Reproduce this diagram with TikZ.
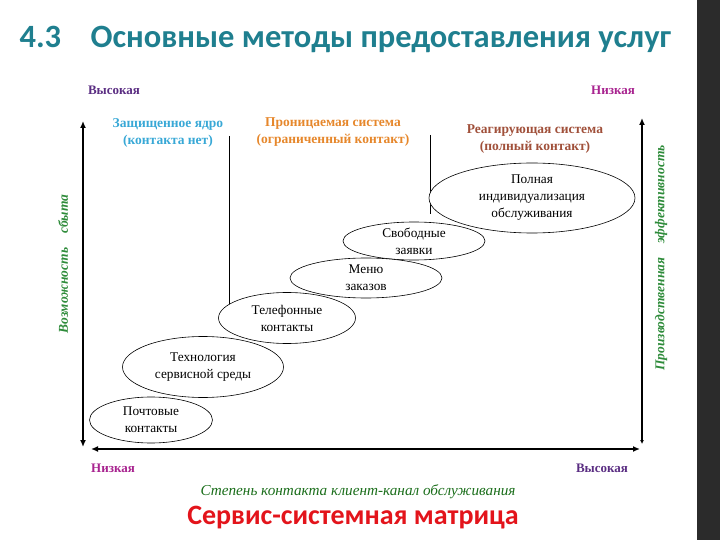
\documentclass[tikz,border=0pt]{standalone}
\usepackage{fontspec}
\setmainfont{Liberation Serif}
\newfontfamily\headfont{Carlito}
\usepackage{xcolor}
\usepackage{tikz}
\usetikzlibrary{arrows.meta,positioning,shapes.geometric}
\definecolor{titleteal}{HTML}{1F7F8F}
\definecolor{highviolet}{HTML}{5A2D82}
\definecolor{lowmagenta}{HTML}{A8238F}
\definecolor{corecyan}{HTML}{38A8D6}
\definecolor{permorange}{HTML}{E6872B}
\definecolor{reactbrown}{HTML}{A0503A}
\definecolor{axisgreen}{HTML}{2E8B3A}
\definecolor{contactgreen}{HTML}{1B6E1B}
\definecolor{matrixred}{HTML}{E3141B}
\definecolor{stripdark}{HTML}{2B2B2B}

\begin{document}
\begin{tikzpicture}[x=1pt, y=-1pt,
  font=\fontsize{13.3}{17}\selectfont,
  cell/.style={draw, ellipse, fill=white, line width=0.6pt, inner sep=0pt, align=center},
  head/.style={font=\fontsize{13.5}{16.5}\selectfont\bfseries, align=center},
  level/.style={font=\fontsize{13}{15}\selectfont\bfseries},
  side/.style={font=\fontsize{13.5}{15}\selectfont\bfseries\itshape, text=axisgreen, rotate=90},
  axis/.style={{Latex[length=7pt,width=6pt]}-{Latex[length=7pt,width=6pt]}, line width=2.6pt},
  divider/.style={line width=0.8pt}
]
\useasboundingbox (0,0) rectangle (720,540);
\fill[stripdark] (697,0) rectangle (720,540);
\node[font=\headfont\fontsize{32.5}{36}\selectfont\bfseries, text=titleteal, anchor=base west] (num) at (16,48) {4.3};
\node[font=\headfont\fontsize{32.5}{36}\selectfont\bfseries, text=titleteal, anchor=base west] (title) at (87,48) {Основные методы предоставления услуг};
\node[level, text=highviolet] (hiL) at (114,90) {Высокая};
\node[level, text=lowmagenta] (loR) at (613,90) {Низкая};
\node[head, text=corecyan] (core) at (168,133) {Защищенное ядро\\(контакта нет)};
\node[head, text=permorange] (perm) at (333,132) {Проницаемая система\\(ограниченный контакт)};
\node[head, text=reactbrown] (react) at (535,139) {Реагирующая система\\(полный контакт)};
\coordinate (div1) at (229,136);
\coordinate (div1end) at (229,312);
\coordinate (div2) at (430,135);
\coordinate (div2end) at (430,214);
\draw[divider] (div1) -- (div1end);
\draw[divider] (div2) -- (div2end);
\node[cell, minimum width=206pt, minimum height=70pt] (full) at (532,198) {Полная\\индивидуализация\\обслуживания};
\node[cell, minimum width=142pt, minimum height=38pt] (free) at (414,241) {Свободные\\заявки};
\node[cell, minimum width=152pt, minimum height=40pt] (menu) at (366,278) {Меню\\заказов};
\node[cell, minimum width=137pt, minimum height=51pt] (phone) at (287,318) {Телефонные\\контакты};
\node[cell, minimum width=161pt, minimum height=61pt] (tech) at (203,367) {Технология\\сервисной среды};
\node[cell, minimum width=123pt, minimum height=46pt] (mail) at (151,420) {Почтовые\\контакты};
\coordinate (ltop) at (83,121);
\coordinate (lbot) at (83,447);
\coordinate (rtop) at (642,118);
\coordinate (rbot) at (642,444);
\coordinate (bleft) at (91,449);
\coordinate (bright) at (640,449);
\draw[axis] (lbot) -- (ltop);
\draw[axis, line width=2.3pt, {Latex[length=4pt,width=4pt]}-{Latex[length=7pt,width=6pt]}] (rbot) -- (rtop);
\draw[axis] (bleft) -- (bright);
\node[side] (sales) at (63,264) {Возможность\hspace{14pt}сбыта};
\node[side] (eff) at (661,258) {Производственная\hspace{14pt}эффективность};
\node[level, text=lowmagenta] (loB) at (113,468) {Низкая};
\node[level, text=highviolet] (hiB) at (602,468) {Высокая};
\node[font=\fontsize{15.2}{17}\selectfont\itshape, text=contactgreen] (degree) at (358,492) {Степень контакта клиент-канал обслуживания};
\node[font=\headfont\fontsize{28}{30}\selectfont\bfseries, text=matrixred] (caption) at (353,518) {Сервис-системная матрица};
\end{tikzpicture}
\end{document}
